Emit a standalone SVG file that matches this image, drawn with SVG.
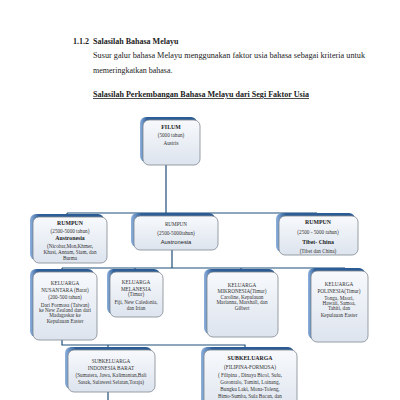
<svg xmlns="http://www.w3.org/2000/svg" width="400" height="400" viewBox="0 0 400 400">
<defs>
<linearGradient id="fillg" x1="0" y1="0" x2="0" y2="1">
<stop offset="0" stop-color="#f7f9fc"/>
<stop offset="1" stop-color="#dde4ee"/>
</linearGradient>
<linearGradient id="shad" x1="0" y1="0" x2="1" y2="0">
<stop offset="0" stop-color="#8fb2de"/>
<stop offset="0.12" stop-color="#2f5f99"/>
<stop offset="1" stop-color="#2a5a92"/>
</linearGradient>
</defs>
<style>
.sh{fill:url(#shad);}
.bx{fill:url(#fillg);stroke:#808890;stroke-width:0.8;}
.t{font-family:"Liberation Serif",serif;font-size:5.2px;fill:#333;text-anchor:middle;}
.tb{font-family:"Liberation Serif",serif;font-size:5.8px;fill:#222;font-weight:bold;text-anchor:middle;}
.ts{font-family:"Liberation Sans",sans-serif;font-size:5.8px;fill:#222;text-anchor:middle;}
.hd{font-family:"Liberation Serif",serif;font-size:8px;fill:#222;}
.conn{fill:none;stroke:#1f4e79;stroke-width:1.2;}
</style>
<rect width="400" height="400" fill="#ffffff"/>
<text class="hd" x="73" y="44" font-weight="bold">1.1.2</text>
<text class="hd" x="93" y="44" font-weight="bold">Salasilah Bahasa Melayu</text>
<text class="hd" x="93" y="58" textLength="272" lengthAdjust="spacingAndGlyphs">Susur galur bahasa Melayu menggunakan faktor usia bahasa sebagai kriteria untuk</text>
<text class="hd" x="93" y="73">memeringkatkan bahasa.</text>
<text class="hd" x="93" y="97" font-weight="bold" text-decoration="underline" textLength="216" lengthAdjust="spacingAndGlyphs">Salasilah Perkembangan Bahasa Melayu dari Segi Faktor Usia</text>

<g id="connectors">
<path class="conn" d="M166,165 V213 M67,213 H317 M67,213 V217 M317,213 V216"/>
<path class="conn" d="M172,250 V268 M62,268 H345 M62,268 V272 M135,268 V272 M241,268 V272 M345,268 V271"/>
<path class="conn" d="M62,340 V345 H245 V350 M108,345 V350 M108,392 V400"/>
</g>

<g id="filum">
<rect class="sh" x="140" y="117" width="57" height="45" rx="6"/>
<rect class="bx" x="143" y="120" width="57" height="45" rx="6"/>
<text class="tb" x="171" y="129" font-size="6.3">FILUM</text>
<text class="t" x="171" y="137" font-size="5.8">(5000 tahun)</text>
<text class="t" x="171" y="145" font-size="5.8">Austris</text>
</g>

<g id="rumpun-austronesia-kiri">
<rect class="sh" x="30" y="214" width="74" height="46" rx="6"/>
<rect class="bx" x="33" y="217" width="74" height="46" rx="6"/>
<text class="tb" x="70" y="225">RUMPUN</text>
<text class="t" x="70" y="233">(2500-5000 tahun)</text>
<text class="tb" x="70" y="240">Austronesia</text>
<text class="t" x="70" y="248">(Nicobar,Mon,Khmer,</text>
<text class="t" x="70" y="254">Khasi, Annam, Siam, dan</text>
<text class="t" x="70" y="260">Burma</text>
</g>

<g id="rumpun-austronesia">
<rect class="sh" x="131" y="213" width="84" height="34" rx="6"/>
<rect class="bx" x="134" y="216" width="84" height="34" rx="6"/>
<text class="t" x="176" y="226" font-size="5.8">RUMPUN</text>
<text class="t" x="176" y="235" font-size="5.8">(2500-5000tahun)</text>
<text class="ts" x="176" y="244">Austronesia</text>
</g>

<g id="rumpun-tibet-china">
<rect class="sh" x="276" y="213" width="79" height="39" rx="6"/>
<rect class="bx" x="279" y="216" width="79" height="39" rx="6"/>
<text class="tb" x="318" y="224">RUMPUN</text>
<text class="t" x="318" y="234" font-size="5.8">(2500 - 5000 tahun)</text>
<text class="tb" x="318" y="244">Tibet- China</text>
<text class="t" x="318" y="253" font-size="5.8">(Tibet dan China)</text>
</g>

<g id="keluarga-nusantara">
<rect class="sh" x="30" y="269" width="64" height="68" rx="6"/>
<rect class="bx" x="33" y="272" width="64" height="68" rx="6"/>
<text class="t" x="65" y="285">KELUARGA</text>
<text class="t" x="65" y="292">NUSANTARA (Barat)</text>
<text class="t" x="65" y="299">(200-500 tahun)</text>
<text class="t" x="65" y="307">Dari Formosa (Taiwan)</text>
<text class="t" x="65" y="312">ke New Zealand dan dari</text>
<text class="t" x="65" y="317">Madagaskar ke</text>
<text class="t" x="65" y="323">Kepulauan Easter</text>
</g>

<g id="keluarga-melanesia">
<rect class="sh" x="107" y="269" width="53" height="45" rx="6"/>
<rect class="bx" x="110" y="272" width="53" height="45" rx="6"/>
<text class="t" x="136" y="284">KELUARGA</text>
<text class="t" x="136" y="291">MELANESIA</text>
<text class="t" x="136" y="296">(Timur)</text>
<text class="t" x="136" y="304">Fiji, New Caledonia,</text>
<text class="t" x="136" y="310">dan Irian</text>
</g>

<g id="keluarga-mikronesia">
<rect class="sh" x="204" y="269" width="71" height="65" rx="6"/>
<rect class="bx" x="207" y="272" width="71" height="65" rx="6"/>
<text class="t" x="242" y="287">KELUARGA</text>
<text class="t" x="242" y="293">MIKRONESIA(Timur)</text>
<text class="t" x="242" y="299">Caroline, Kepulauan</text>
<text class="t" x="242" y="304">Marianna, Marshall, dan</text>
<text class="t" x="242" y="310">Gilbert</text>
</g>

<g id="keluarga-polinesia">
<rect class="sh" x="308" y="268" width="57" height="71" rx="6"/>
<rect class="bx" x="311" y="271" width="57" height="71" rx="6"/>
<text class="t" x="339" y="286">KELUARGA</text>
<text class="t" x="339" y="293">POLINESIA(Timur)</text>
<text class="t" x="339" y="300">Tonga, Maori,</text>
<text class="t" x="339" y="305">Hawaii, Samoa,</text>
<text class="t" x="339" y="310">Tahiti, dan</text>
<text class="t" x="339" y="317">Kepulauan Easter</text>
</g>

<g id="subkeluarga-indonesia-barat">
<rect class="sh" x="65" y="347" width="87" height="42" rx="6"/>
<rect class="bx" x="68" y="350" width="87" height="42" rx="6"/>
<text class="t" x="111" y="363" font-size="4.8">SUBKELUARGA</text>
<text class="t" x="111" y="370" font-size="4.8">INDONESIA BARAT</text>
<text class="t" x="111" y="377" font-size="4.8">(Sumatera, Jawa, Kalimantan,Bali</text>
<text class="t" x="111" y="384" font-size="4.8">Sasak, Sulawesi Selatan,Toraja)</text>
</g>

<g id="subkeluarga-filipina-formosa">
<rect class="sh" x="201" y="347" width="93" height="64" rx="6"/>
<rect class="bx" x="204" y="350" width="93" height="64" rx="6"/>
<text class="tb" x="250" y="360">SUBKELUARGA</text>
<text class="t" x="250" y="369" font-size="5.6">(FILIPINA-FORMOSA)</text>
<text class="t" x="250" y="377" font-size="5.4">( Filipina , Dinaya Bicol, Sulu,</text>
<text class="t" x="250" y="384" font-size="5.4">Gorontalo, Tomini, Loinang,</text>
<text class="t" x="250" y="391" font-size="5.4">Bungku Laki, Mona-Toleng,</text>
<text class="t" x="250" y="398" font-size="5.4">Bimo-Sumba, Sula Bacan, dan</text>
</g>
</svg>
